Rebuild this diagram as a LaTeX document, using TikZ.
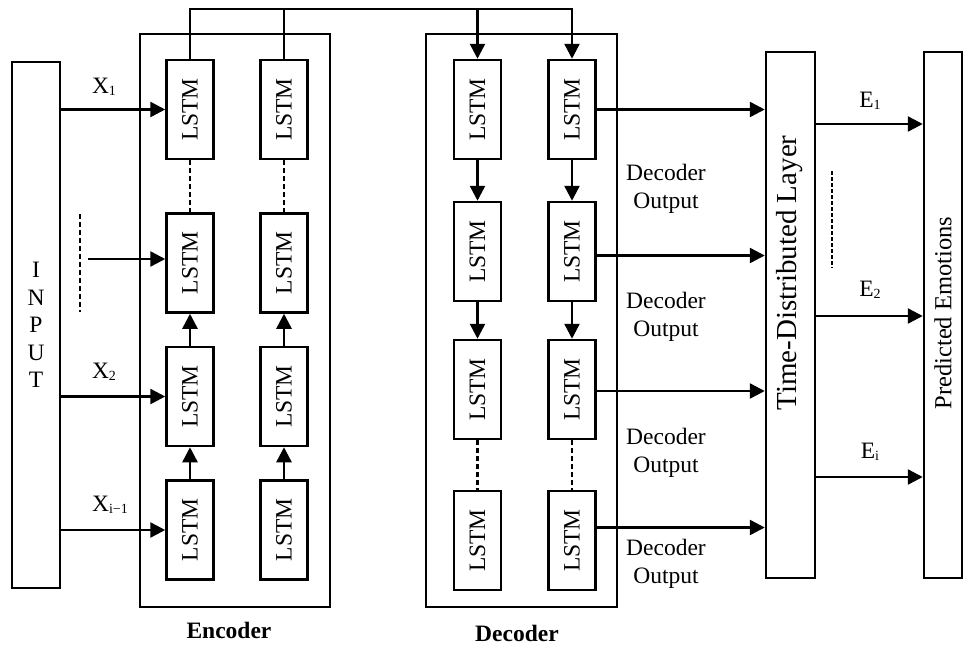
\documentclass[tikz,border=0pt]{standalone}
\usepackage{fontspec}
\setmainfont{Liberation Serif}
\usetikzlibrary{arrows.meta,calc}
% small index set on the baseline, as in X1, E2
\newcommand\smidx[1]{\raisebox{-1.5pt}{\fontsize{14}{14}\selectfont #1}}
\begin{document}
\begin{tikzpicture}[x=1pt,y=-1pt,
  line width=2.5pt,
  font=\fontsize{23.5}{27.5}\selectfont,
  lstm/.style={draw, minimum width=47pt, minimum height=99pt, inner sep=0pt},
  frame/.style={draw, inner sep=0pt},
  arr/.style={-{Triangle[length=15pt,width=15pt]}},
  dashln/.style={dash pattern=on 5pt off 3pt},
  lbl/.style={inner sep=0pt},
]
\useasboundingbox (0,0) rectangle (964,646);

% outer frames
\node[frame, minimum width=48pt, minimum height=526pt, align=center] (in) at (36,325) {I\\N\\P\\U\\T};
\node[frame, minimum width=190pt, minimum height=573pt] (enc) at (235,320.5) {};
\node[frame, minimum width=191pt, minimum height=573pt] (dec) at (521.5,320.5) {};
\node[frame, minimum width=49pt, minimum height=526pt] (td) at (790.5,315) {};
\node[frame, minimum width=38pt, minimum height=526pt] (pe) at (943,315) {};
\node[rotate=90, lbl, font=\fontsize{29}{33}\selectfont] (tdtext) at (790,273) {Time-Distributed Layer};
\node[rotate=90, lbl, font=\fontsize{24.5}{28}\selectfont] (petext) at (943,313) {Predicted Emotions};

% encoder cells
\foreach \r/\y in {1/109.5, 2/263, 3/396.5, 4/530} {
  \node[lstm] (e\r1) at (190,\y) {\rotatebox{90}{LSTM}};
  \node[lstm] (e\r2) at (284,\y) {\rotatebox{90}{LSTM}};
}
% decoder cells
\foreach \r/\y in {1/109.5, 2/251.5, 3/389.5, 4/540.5} {
  \node[lstm] (d\r1) at (477.5,\y) {\rotatebox{90}{LSTM}};
  \node[lstm] (d\r2) at (572,\y) {\rotatebox{90}{LSTM}};
}

% encoder links
\foreach \c in {1,2} {
  \draw[dashln] (e1\c.south) -- (e2\c.north);
  \draw[arr] (e3\c.north) -- (e2\c.south);
  \draw[arr] (e4\c.north) -- (e3\c.south);
}
% decoder links
\foreach \c in {1,2} {
  \draw[arr] (d1\c.south) -- (d2\c.north);
  \draw[arr] (d2\c.south) -- (d3\c.north);
  \draw[dashln] (d3\c.south) -- (d4\c.north);
}

% encoder states passed to the decoder
\coordinate (bus) at (0,9);
\draw[arr] (e11.north) |- (bus -| d12.north) -- (d12.north);
\draw (e12.north) -- (e12.north |- bus);
\draw[arr] (d11.north |- bus) -- (d11.north);

% inputs
\draw[arr] (in.east |- e11.west) -- (e11.west);
\draw[arr] (in.east |- e31.west) -- (e31.west);
\draw[arr] (in.east |- e41.west) -- (e41.west);
\coordinate (xin) at (88,259);
\draw[arr] (xin) -- (xin -| e21.west);
\coordinate (xd1) at (80,214);
\coordinate (xd2) at (80,312);
\draw[dashln] (xd1) -- (xd2);
\node[lbl] (x1) at (104,87) {X\smidx{1}};
\node[lbl] (x2) at (104,372) {X\smidx{2}};
\node[lbl] (xi) at (110,505) {X\smidx{i−1}};

% decoder outputs
\draw[arr] (d12.east) -- (d12.east -| td.west);
\draw[arr] ([yshift=-4pt]d22.east) -- ([yshift=-4pt]d22.east -| td.west);
\draw[arr] ([yshift=-1.5pt]d32.east) -- ([yshift=-1.5pt]d32.east -| td.west);
\draw[arr] ([yshift=13pt]d42.east) -- ([yshift=13pt]d42.east -| td.west);
\node[align=center, lbl] (do1) at (666,189) {Decoder\\Output};
\node[align=center, lbl] (do2) at (666,317) {Decoder\\Output};
\node[align=center, lbl] (do3) at (666,453) {Decoder\\Output};
\node[align=center, lbl] (do4) at (666,564) {Decoder\\Output};

% predicted emotions
\coordinate (y1) at (0,124);
\coordinate (y2) at (0,316);
\coordinate (y3) at (0,477);
\draw[arr] (td.east |- y1) -- (pe.west |- y1);
\draw[arr] (td.east |- y2) -- (pe.west |- y2);
\draw[arr] (td.east |- y3) -- (pe.west |- y3);
\coordinate (ed1) at (832,171);
\coordinate (ed2) at (832,268);
\draw[dash pattern=on 3.5pt off 2.5pt] (ed1) -- (ed2);
\node[lbl] (le1) at (870,101) {E\smidx{1}};
\node[lbl] (le2) at (870,290) {E\smidx{2}};
\node[lbl] (lei) at (870,452) {E\smidx{i}};

% block titles
\node[lbl, font=\fontsize{23.5}{27.5}\selectfont\bfseries] (enct) at (229,630) {Encoder};
\node[lbl, font=\fontsize{23.5}{27.5}\selectfont\bfseries] (dect) at (517,633) {Decoder};
\end{tikzpicture}
\end{document}
